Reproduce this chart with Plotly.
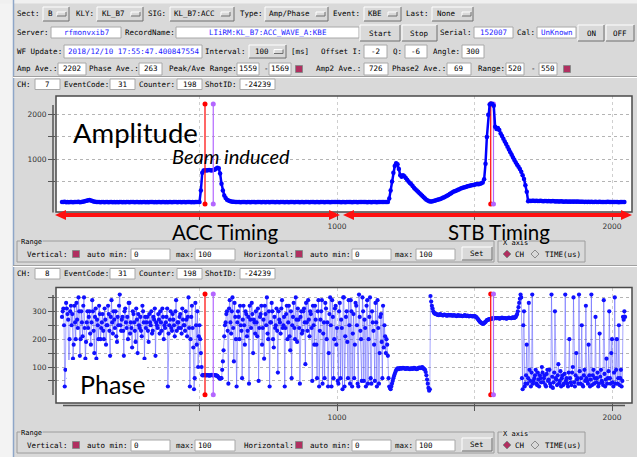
import plotly.graph_objects as go

# ---------------- data ----------------
CH_STEP = 5  # amplitude sampled every 5 channels (0 .. 2045)

amp_values = [
    45, 40, 48, 38, 42, 35, 44, 40, 38, 45, 42, 40, 46, 39, 43, 50, 55, 62, 70, 80,
    85, 78, 65, 55, 48, 42, 40, 44, 38, 42, 40, 36, 42, 45, 38, 40, 43, 37, 41, 39,
    42, 38, 40, 44, 36, 41, 39, 43, 40, 38, 42, 45, 40, 37, 41, 44, 39, 42, 38, 40,
    43, 39, 41, 37, 42, 40, 45, 38, 41, 39, 43, 40, 37, 42, 44, 39, 41, 38, 42, 40,
    39, 42, 40, 44, 38, 41, 43, 39, 40, 42, 38, 41, 44, 40, 39, 42, 37, 41, 40, 43,
    45, 300, 700, 750, 755, 748, 752, 760, 755, 750, 758, 765, 790, 810, 800, 680, 450, 300, 190, 130,
    95, 75, 62, 55, 50, 46, 42, 45, 40, 43, 39, 42, 40, 44, 38, 41, 43, 39, 42, 40,
    41, 38, 43, 40, 42, 39, 44, 40, 38, 42, 41, 39, 43, 40, 42, 38, 41, 44, 39, 42,
    40, 43, 38, 41, 42, 39, 44, 40, 41, 38, 42, 40, 43, 39, 41, 42, 38, 40, 43, 41,
    39, 42, 40, 44, 38, 41, 43, 39, 42, 40, 41, 38, 44, 40, 42, 39, 43, 41, 40, 42,
    45, 40, 42, 38, 44, 41, 39, 43, 40, 42, 41, 38, 43, 40, 42, 39, 44, 41, 40, 42,
    40, 43, 39, 42, 41, 38, 44, 40, 42, 39, 43, 41, 40, 42, 45, 40, 43, 45, 120, 300,
    500, 700, 850, 910, 890, 780, 640, 610, 640, 620, 580, 540, 500, 470, 440, 400, 360, 330, 300, 270,
    240, 210, 180, 150, 120, 95, 75, 60, 52, 55, 62, 70, 80, 90, 100, 110, 120, 135, 150, 165,
    180, 200, 220, 240, 260, 275, 290, 300, 315, 330, 345, 355, 365, 375, 385, 395, 400, 410, 420, 425,
    430, 440, 445, 440, 450, 460, 480, 550, 900, 1500, 2000, 2230, 2250, 2240, 2200, 1730, 1680, 1700, 1655, 1580,
    1520, 1460, 1400, 1340, 1280, 1220, 1160, 1100, 1040, 985, 930, 880, 830, 780, 720, 640, 560, 420, 270, 60,
    70, 65, 72, 68, 64, 70, 66, 62, 68, 64, 60, 66, 62, 58, 64, 60, 57, 62, 58, 55,
    60, 56, 52, 58, 54, 50, 55, 52, 48, 54, 50, 53, 49, 52, 48, 51, 47, 50, 46, 49,
    45, 48, 44, 47, 43, 46, 42, 45, 48, 44, 42, 46, 43, 45, 41, 44, 42, 46, 43, 41,
    44, 40, 43, 45, 41, 38, 42, 44, 40, 42,
]

# phase: samples on channels 0, 5, 10, ... (main) and 2.5, 7.5, ... (mid)
phase_noisy_a = [
    280, 310, 30, 330, 290, 60, 300, 250, 130, 320, 200, 270, 350,
    140, 300, 210, 350, 130, 260, 240, 300, 180, 340, 230, 280, 130, 250, 320, 200,
    260, 230, 310, 180, 250, 290, 140, 340, 220, 270, 300, 190, 250, 360, 230, 280,
    140, 310, 240, 200, 330, 260, 170, 290, 230, 310, 150, 250, 280, 210, 300, 130,
    240, 280, 190, 260, 300, 230, 270, 140, 250, 290, 220, 260, 310, 200, 240, 280,
    30, 250, 300, 230, 270, 210, 340, 260, 240, 290, 220, 270, 250, 300,
    210, 350, 30, 280, 240, 20, 330, 180, 100, 250,
]
phase_drop_a = [150, 70]
phase_beam_flat = [70, 72, 70, 71, 69, 70, 72, 70, 71, 70, 68, 62, 58, 60]
phase_rise_b = [120, 210]
phase_noisy_c = [
    260, 300, 40, 340, 220, 350, 120, 280, 30, 300, 200, 250, 60, 320, 180, 290, 230, 40, 270, 330, 150, 260,
    300, 210, 50, 280, 320, 240, 130, 290, 350, 200, 30, 260, 300, 170, 240, 310, 80, 270, 220, 340,
    250, 30, 290, 200, 320, 160, 60, 280, 240, 350, 190, 270, 40, 300, 230, 310, 110, 260, 340, 210,
    290, 50, 250, 320, 180, 300, 30, 270, 340, 220, 60, 310, 260, 150, 350, 30, 280, 200, 320, 240,
    40, 330, 270, 20, 350, 210, 300, 60, 250, 340, 30, 290, 180, 320, 40, 360, 230, 50, 300, 270,
    30, 340, 200, 350, 40, 260, 180, 330, 30, 240, 150, 290, 60, 170, 210, 200, 140,
]
phase_low_flat = [
    30, 20, 40, 60, 75, 88, 95, 92, 96, 94, 97, 95, 93, 96, 94,
    92, 95, 93, 97, 94, 92, 95, 98, 96, 100, 94, 90, 70, 40, 15,
]
phase_high_flat = [
    355, 320, 300, 292, 290, 288, 286, 290, 287, 285, 288, 286, 284, 287, 285, 286,
    284, 286, 285, 283, 286, 284, 285, 283, 284, 286, 283, 285, 282, 284, 283, 282,
    283, 280, 275, 268, 262, 258, 255, 257, 262, 268, 270, 272, 273, 275, 274, 276,
    275, 276, 274, 275, 277, 275, 276, 274, 275, 277, 276, 275, 278, 276, 280, 290,
    315, 345,
]
phase_noisy_f = [
    350, 20, 300, 40, 180, 60, 90, 30, 360, 50, 70, 40, 80, 30, 60, 100,
    45, 70, 30, 90, 55, 40, 360, 25, 80, 60, 35, 110, 50, 30, 70, 40,
    360, 60, 30, 200, 45, 80, 350, 30, 150, 60, 360, 40, 250, 30, 90, 320,
    50, 180, 30, 360, 70, 40, 280, 60, 30, 220, 90, 45, 340, 30, 130, 60,
    300, 40, 200, 30, 350, 90, 40, 250, 60, 30, 280, 300,
]

phase_noisy_a_mid = [
    300, 250, 90, 310, 270, 200, 320, 290, 180, 260, 330, 240, 300,
    200, 260, 320, 240, 190, 300, 280, 220, 260, 300, 150, 310, 270, 200, 290, 240,
    290, 200, 270, 250, 320, 230, 280, 260, 300, 240, 210, 280, 320, 250, 270, 230,
    300, 260, 280, 330, 220, 240, 300, 260, 190, 270, 290, 240, 230, 320, 260, 280,
    260, 230, 290, 250, 220, 280, 310, 260, 240, 270, 300, 230, 280, 250, 260, 310,
    220, 270, 240, 290, 250, 300, 230, 260, 280, 240, 310, 250, 230, 270,
    280, 240, 200, 320, 170, 60, 250, 300, 210, 200,
]
phase_drop_a_mid = [100, 71]
phase_beam_flat_mid = [71, 70, 71, 70, 70, 71, 70, 71, 70, 69, 65, 60, 59, 90]
phase_rise_b_mid = [160, 250]
phase_noisy_c_mid = [
    290, 230, 310, 260, 300, 240, 330, 200, 260, 280, 320, 230, 270, 250, 300, 210, 280, 320, 240, 290, 270, 220,
    260, 310, 240, 290, 180, 270, 320, 250, 220, 300, 260, 330, 200, 280, 250, 230, 300, 260, 310, 240,
    280, 240, 320, 260, 210, 300, 250, 330, 200, 270, 310, 240, 280, 220, 300, 260, 330, 230, 270, 300,
    240, 320, 180, 270, 60, 340, 230, 300, 40, 260, 330, 200, 30, 290, 250, 340, 60, 310, 180, 50,
    300, 60, 240, 350, 30, 280, 190, 340, 40, 300, 220, 60, 330, 250, 30, 280, 200, 350, 50, 240,
    320, 40, 280, 60, 300, 230, 50, 260, 340, 40, 280, 190, 320, 250, 150, 180, 60,
]
phase_low_flat_mid = [
    25, 30, 50, 68, 82, 92, 94, 95, 95, 96, 96, 94, 95, 95, 93,
    94, 94, 95, 96, 93, 94, 97, 97, 98, 97, 92, 82, 55, 25, 20,
]
phase_high_flat_mid = [
    335, 310, 295, 291, 289, 287, 288, 288, 286, 286, 287, 285, 285, 286, 286, 285,
    285, 285, 284, 284, 285, 284, 284, 283, 285, 284, 284, 283, 283, 283, 282, 283,
    282, 278, 272, 265, 260, 256, 256, 260, 265, 269, 271, 272, 274, 274, 275, 275,
    275, 275, 274, 276, 276, 275, 275, 274, 276, 276, 275, 277, 277, 278, 285, 300,
    330, 360,
]
phase_noisy_f_mid = [
    60, 250, 30, 70, 40, 330, 50, 80, 40, 60, 90, 35, 55, 70, 45, 80,
    60, 35, 75, 50, 90, 30, 65, 45, 300, 55, 70, 40, 85, 60, 35, 75,
    50, 40, 80, 60, 35, 100, 45, 70, 55, 40, 85, 60, 35, 70, 50, 60,
    40, 70, 55, 35, 90, 60, 45, 80, 40, 65, 50, 35, 75, 55, 40, 85,
    60, 150, 45, 80, 40, 200, 60, 35, 90, 50, 270, 280,
]

phase_main = (phase_noisy_a + phase_drop_a + phase_beam_flat + phase_rise_b +
              phase_noisy_c + phase_low_flat + phase_high_flat + phase_noisy_f)
phase_mid = (phase_noisy_a_mid + phase_drop_a_mid + phase_beam_flat_mid + phase_rise_b_mid +
             phase_noisy_c_mid + phase_low_flat_mid + phase_high_flat_mid + phase_noisy_f_mid)
phase_values = [v for pair in zip(phase_main, phase_mid) for v in pair]

amp_channels = list(range(0, CH_STEP * len(amp_values), CH_STEP))
phase_channels = [i * CH_STEP / 2 for i in range(len(phase_values))]

range_ch = [520, 550]       # "Range: 520 - 550"
peak_ch = [1559, 1569]      # "Peak/Ave Range: 1559 - 1569"
amp_marker_top = 2240
phase_marker_top = 362

x_tickvals = [500, 1000, 1500, 2000]
x_ticktext = ['', '1000', '', '2000']
amp_tickvals = [500, 1000, 1500, 2000]
amp_ticktext = ['', '1000', '', '2000']
phase_tickvals = [50, 100, 150, 200, 250, 300, 350]
phase_ticktext = ['', '100', '', '200', '', '300', '']

# ---------------- helpers (pixel -> paper) ----------------
W, H = 637, 457
BG = '#d9d9d9'
MONO = 'DejaVu Sans Mono'
BLUE_TXT = '#1a1aff'
MAROON = '#b03060'
shapes, annots = [], []


def X(px):
    return px / W


def Y(py):
    return 1 - py / H


def rect(x0, y0, x1, y1, fill=None, line=None, lw=1, layer='below'):
    shapes.append(dict(type='rect', xref='paper', yref='paper',
                       x0=X(x0), x1=X(x1), y0=Y(y1), y1=Y(y0),
                       fillcolor=fill or 'rgba(0,0,0,0)',
                       line=dict(color=line or 'rgba(0,0,0,0)', width=lw if line else 0),
                       layer=layer))


def seg(x0, y0, x1, y1, color, lw=1, layer='below'):
    shapes.append(dict(type='line', xref='paper', yref='paper',
                       x0=X(x0), x1=X(x1), y0=Y(y0), y1=Y(y1),
                       line=dict(color=color, width=lw), layer=layer))


def poly(pts, fill, line=None, lw=0, layer='below'):
    d = 'M ' + ' L '.join(f'{X(a):.5f},{Y(b):.5f}' for a, b in pts) + ' Z'
    shapes.append(dict(type='path', xref='paper', yref='paper', path=d,
                       fillcolor=fill,
                       line=dict(color=line or 'rgba(0,0,0,0)', width=lw if line else 0),
                       layer=layer))


def text(x, y, s, color='black', anchor='left', size=7.5, family=MONO, bg=None, italic=False):
    a = dict(xref='paper', yref='paper', x=X(x), y=Y(y), text=s, showarrow=False,
             xanchor=anchor, yanchor='middle', borderpad=0,
             font=dict(family=family, size=size, color=color))
    if italic:
        a['font']['style'] = 'italic'
    if bg:
        a['bgcolor'] = bg
    annots.append(a)


def raised(x0, y0, x1, y1):
    rect(x0, y0, x1, y1, fill=BG)
    seg(x0, y0, x1, y0, '#ffffff')
    seg(x0, y0, x0, y1, '#ffffff')
    seg(x0, y1, x1, y1, '#6e6e6e')
    seg(x1, y0, x1, y1, '#6e6e6e')


def entry(x0, y0, x1, y1, s, color='black', align='center'):
    rect(x0, y0, x1, y1, fill='white', line='#a8a8a8')
    if align == 'center':
        text((x0 + x1) / 2, (y0 + y1) / 2, s, color, anchor='center')
    else:
        text(x0 + 2, (y0 + y1) / 2, s, color)


def button(x0, y0, x1, y1, s):
    raised(x0, y0, x1, y1)
    text((x0 + x1) / 2, (y0 + y1) / 2, s, anchor='center')


def optmenu(x0, y0, x1, y1, s, tx, ix0, ix1):
    raised(x0, y0, x1, y1)
    yc = (y0 + y1) / 2
    text(tx, yc, s)
    raised(ix0, yc - 2, ix1, yc + 2)


def checkbox(xc, yc):
    rect(xc - 3.5, yc - 3.5, xc + 3.5, yc + 3.5, fill=MAROON, line='#8a8a8a')


def diamond(xc, yc, fill, line):
    poly([(xc, yc - 4), (xc + 4, yc), (xc, yc + 4), (xc - 4, yc)], fill, line, 1)


# ---------------- window chrome ----------------
rect(0, 0, 13, H, fill='#f3f3f3')
rect(0, 0, W, 3.5, fill='#f0f0f0')
seg(13.5, 0, 13.5, H, '#8ea6c8', 1.5)

# row 1
r = 14
text(16, r, 'Sect:')
optmenu(43, 7, 69, 21, 'B', 47, 57, 66)
text(75, r, 'KLY:')
optmenu(97, 7, 143, 21, 'KL_B7', 101, 131, 140)
text(147, r, 'SIG:')
optmenu(170, 7, 234, 21, 'KL_B7:ACC', 173, 221, 230)
text(239, r, 'Type:')
optmenu(265, 7, 328, 21, 'Amp/Phase', 268, 316, 325)
text(332, r, 'Event:')
optmenu(364, 7, 401, 21, 'KBE', 367, 388, 397)
text(405, r, 'Last:')
optmenu(432, 7, 473, 21, 'None', 436, 462, 471)

# row 2
r = 32.5
text(16, r, 'Server:')
entry(51, 27, 121, 38, 'rfmonvxib7', BLUE_TXT)
text(124, r, 'RecordName:')
entry(176, 27, 359, 38, 'LIiRM:KL_B7:ACC_WAVE_A:KBE', BLUE_TXT)
button(360, 25, 400, 41, 'Start')
button(402, 25, 437, 41, 'Stop')
text(439, r, 'Serial:')
entry(474, 27, 513, 38, '152007', BLUE_TXT)
text(516, r, 'Cal:')
entry(537, 27, 576, 38, 'UnKnown', BLUE_TXT)
button(578, 25, 604, 41, 'ON')
button(606, 25, 634, 41, 'OFF')

# row 3
r = 51.5
text(16, r, 'WF Update:')
entry(64, 45, 202, 58, '2018/12/10 17:55:47.400847554', BLUE_TXT)
text(204, r, 'Interval:')
optmenu(249, 45, 286, 58, '100', 254, 274, 283)
text(290, r, '[ms]')
text(320, r, 'Offset I:')
entry(364, 45, 387, 58, '-2')
text(392, r, 'Q:')
entry(405, 45, 427, 58, '-6')
text(432, r, 'Angle:')
entry(462, 45, 484, 58, '300')

# row 4
r = 69
text(16, r, 'Amp Ave.:')
entry(58, 63, 86, 75, '2202')
text(88, r, 'Phase Ave.:')
entry(139, 63, 162, 75, '263')
text(168, r, 'Peak/Ave Range:')
entry(237, 63, 259, 75, str(peak_ch[0]))
text(263, r, '-')
entry(269, 63, 291, 75, str(peak_ch[1]))
checkbox(299, r)
text(315, r, 'Amp2 Ave.:')
entry(364, 63, 388, 75, '726')
text(391, r, 'Phase2 Ave.:')
entry(447, 63, 471, 75, '69')
text(477, r, 'Range:')
entry(506, 63, 524, 75, str(range_ch[0]))
text(530, r, '-')
entry(539, 63, 557, 75, str(range_ch[1]))
checkbox(567, r)

seg(13, 76.5, W, 76.5, '#a0a0a0')
seg(13, 77.5, W, 77.5, '#ffffff')


def ch_row(yc, ch):
    y0, y1 = yc - 5, yc + 5.5
    text(16, yc, 'CH:')
    entry(35, y0, 60, y1, ch)
    text(63, yc, 'EventCode:')
    entry(110, y0, 135, y1, '31')
    text(138, yc, 'Counter:')
    entry(177, y0, 202, y1, '198')
    text(204, yc, 'ShotID:')
    entry(240, y0, 275, y1, '-24239')


def range_panel(dy):
    rect(17, 241 + dy, 494, 262 + dy, line='#9c9c9c')
    text(20, 242 + dy, 'Range', size=7, bg=BG)
    r = 254 + dy
    text(26, r, 'Vertical:')
    checkbox(76, r)
    text(86, r, 'auto min:')
    entry(131, 249 + dy, 170, 260 + dy, '0', align='left')
    text(175, r, 'max:')
    entry(195, 249 + dy, 235, 260 + dy, '100', align='left')
    text(243, r, 'Horizontal:')
    checkbox(299, r)
    text(309, r, 'auto min:')
    entry(352, 249 + dy, 391, 260 + dy, '0', align='left')
    text(394, r, 'max:')
    entry(416, 249 + dy, 455, 260 + dy, '100', align='left')
    button(462, 247 + dy, 492, 260 + dy, 'Set')
    rect(498, 241 + dy, 585, 262 + dy, line='#9c9c9c')
    text(502, 243 + dy, 'X axis', size=7, bg=BG)
    diamond(507, r, MAROON, '#8a8a8a')
    text(514, r, 'CH')
    diamond(535, r, BG, '#8a8a8a')
    text(544, r, 'TIME(us)')


ch_row(84, '7')
range_panel(0)
seg(13, 265.5, W, 265.5, '#a0a0a0')
seg(13, 266.5, W, 266.5, '#ffffff')
ch_row(273.5, '8')
range_panel(191)

# plot frames & offset axis lines
AX = '#555555'
rect(56, 96, 632, 212, line='#4a4a4a', lw=1.5, layer='above')
rect(56, 287.5, 632, 403, line='#4a4a4a', lw=1.5, layer='above')
seg(53, 105, 53, 212.5, AX, 1.5)
seg(53, 295, 53, 395, AX, 1.5)
seg(63, 405.5, 625, 405.5, AX, 1.5)

# white box behind "Phase" label
rect(67, 360, 147, 402, fill='white', layer='above')

# red timing arrows
RED = '#ff1010'


def arrow(xa, xb, yc):
    seg(xa + 9, yc, xb - 9, yc, RED, 4, layer='above')
    poly([(xa, yc), (xa + 11, yc - 5), (xa + 11, yc + 5)], RED, layer='above')
    poly([(xb, yc), (xb - 11, yc - 5), (xb - 11, yc + 5)], RED, layer='above')


arrow(55, 340, 215)
arrow(343, 632, 215)

# overlay labels
LATO = 'Lato'
text(72, 132.5, 'Amplitude', size=27.5, family=LATO)
text(171, 155.5, 'Beam induced', size=20, family=LATO, italic=True)
text(171, 232, 'ACC Timing', size=20.5, family=LATO)
text(447, 232, 'STB Timing', size=20.5, family=LATO)
text(79, 384, 'Phase', size=25, family=LATO)

# ---------------- traces ----------------
fig = go.Figure()
PURPLE = '#b366ff'
mcolors = ['#ff0000', PURPLE]

# peak-range markers drawn beneath the amplitude waveform
for c, col in zip(peak_ch, mcolors):
    fig.add_trace(go.Scatter(x=[c, c], y=[0, amp_marker_top], mode='lines+markers',
                             line=dict(color=col, width=1.2), marker=dict(size=5, color=col),
                             xaxis='x', yaxis='y', hoverinfo='skip'))

fig.add_trace(go.Scatter(x=amp_channels, y=amp_values, mode='lines+markers',
                         line=dict(color='#0000ff', width=2.5),
                         marker=dict(size=4.5, color='#0000ff'),
                         xaxis='x', yaxis='y'))

for c, col in zip(range_ch, mcolors):
    fig.add_trace(go.Scatter(x=[c, c], y=[0, amp_marker_top], mode='lines+markers',
                             line=dict(color=col, width=1.2), marker=dict(size=5, color=col),
                             xaxis='x', yaxis='y', hoverinfo='skip'))

fig.add_trace(go.Scatter(x=phase_channels, y=phase_values, mode='lines+markers',
                         line=dict(color='rgba(80,80,255,0.5)', width=1),
                         marker=dict(size=4.2, color='#1010ff'),
                         xaxis='x2', yaxis='y2'))

for pair in (range_ch, peak_ch):
    for c, col in zip(pair, mcolors):
        fig.add_trace(go.Scatter(x=[c, c], y=[0, phase_marker_top], mode='lines+markers',
                                 line=dict(color=col, width=1.2), marker=dict(size=5, color=col),
                                 xaxis='x2', yaxis='y2', hoverinfo='skip'))

tickfont = dict(family='DejaVu Sans', size=7.5, color='#333333')
common_x = dict(range=[-21.8, 2072.7], tickmode='array', tickvals=x_tickvals, ticktext=x_ticktext,
                ticks='outside', ticklen=7, tickcolor=AX, tickwidth=1,
                showgrid=True, gridcolor='#cfcfcf', gridwidth=1, griddash='dot',
                zeroline=False, showline=False, tickfont=tickfont, fixedrange=True,
                domain=[X(56), X(632)])
common_y = dict(tickmode='array', ticks='outside', ticklen=7, tickcolor=AX, tickwidth=1,
                showgrid=True, gridcolor='#b4b4b4', gridwidth=1, griddash='dot',
                zeroline=False, showline=False, tickfont=tickfont, fixedrange=True)

fig.update_layout(
    width=W, height=H, autosize=False,
    margin=dict(l=0, r=0, t=0, b=0),
    paper_bgcolor=BG, plot_bgcolor='white',
    showlegend=False,
    xaxis=dict(**common_x, anchor='y'),
    yaxis=dict(**common_y, anchor='x', range=[-182, 2419],
               tickvals=amp_tickvals, ticktext=amp_ticktext,
               domain=[Y(212), Y(96)]),
    xaxis2=dict(**common_x, anchor='y2'),
    yaxis2=dict(**common_y, anchor='x2', range=[-29.3, 385.5],
                tickvals=phase_tickvals, ticktext=phase_ticktext,
                domain=[Y(403), Y(287.5)]),
    shapes=shapes,
    annotations=annots,
)

fig.write_html('out.html')
